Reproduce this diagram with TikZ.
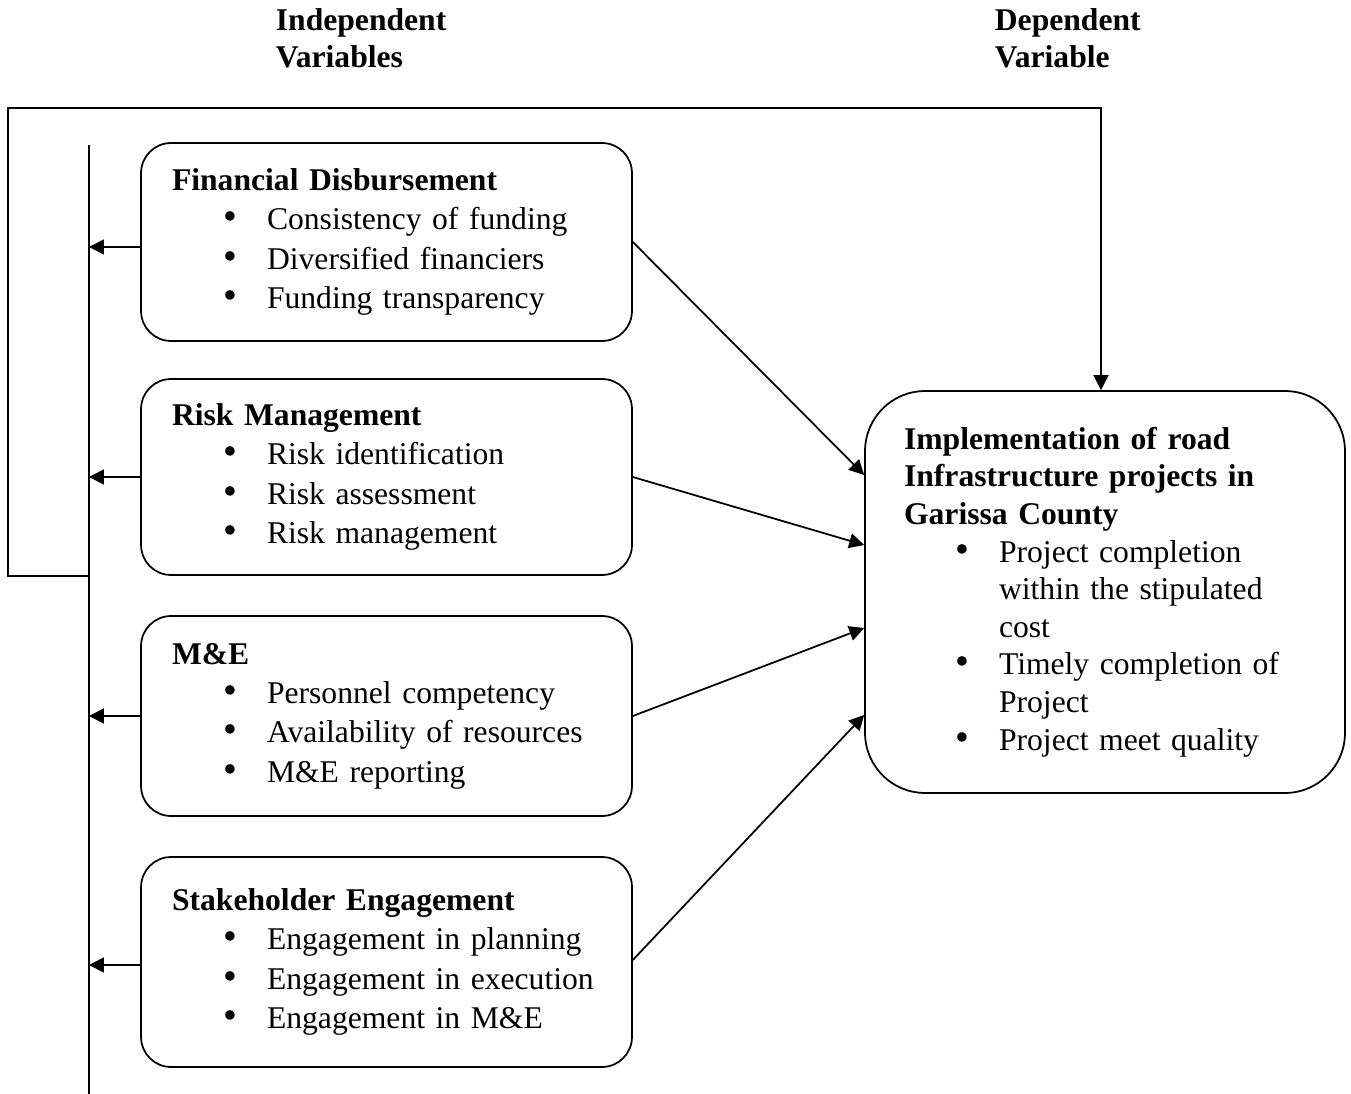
\documentclass[tikz,border=0pt]{standalone}
\usepackage{fontspec}
\setmainfont{Liberation Serif}
\usetikzlibrary{arrows.meta}
\newcommand{\itm}[1]{\makebox[1.9cm][l]{\hspace{1.02cm}\scalebox{1.25}{\textbullet}}#1}
\begin{document}
\begin{tikzpicture}[x=0.02cm,y=-0.02cm,
  line width=1pt,
  arr/.style={-{Triangle[length=8.5pt,width=8.5pt]}},
  ivbox/.style={draw,rounded corners=0.6cm,text width=8.58cm,inner xsep=0.62cm,
     minimum width=9.82cm,align=left,font=\fontsize{18}{22.4}\selectfont},
  dvbox/.style={draw,rounded corners=1.2cm,text width=8.04cm,inner xsep=0.78cm,
     minimum width=9.6cm,minimum height=8.04cm,align=left,font=\fontsize{18}{21.4}\selectfont},
  hdr/.style={anchor=north west,inner sep=0pt,align=left,font=\fontsize{18}{21.1}\selectfont\bfseries}]
\useasboundingbox (0,0) rectangle (1351,1094);
\node[hdr] (h1) at (275,8) {Independent\\Variables};
\node[hdr] (h2) at (994,8) {Dependent\\Variable};

\node[ivbox,minimum height=3.96cm] (b1) at (386.5,242) {\textbf{Financial Disbursement}\\
\itm{Consistency of funding}\\ \itm{Diversified financiers}\\ \itm{Funding transparency}};
\node[ivbox,minimum height=3.92cm] (b2) at (386.5,477) {\textbf{Risk Management}\\
\itm{Risk identification}\\ \itm{Risk assessment}\\ \itm{Risk management}};
\node[ivbox,minimum height=4.0cm] (b3) at (386.5,716) {\textbf{M\&E}\\
\itm{Personnel competency}\\ \itm{Availability of resources}\\ \itm{M\&E reporting}};
\node[ivbox,minimum height=4.2cm] (b4) at (386.5,962) {\textbf{Stakeholder Engagement}\\
\itm{Engagement in planning}\\ \itm{Engagement in execution}\\ \itm{Engagement in M\&E}\\[0.1cm]};

\node[dvbox] (dep) at (1105,592) {\textbf{Implementation of road}\\
\textbf{Infrastructure projects in}\\ \textbf{Garissa County}\\
\itm{Project completion}\\ \hspace*{1.9cm}within the stipulated\\ \hspace*{1.9cm}cost\\
\itm{Timely completion of}\\ \hspace*{1.9cm}Project\\
\itm{Project meet quality}};

\coordinate (bt) at (89,145);
\coordinate (bb) at (89,1094);
\coordinate (bj) at (89,576);
\coordinate (tl) at (8,108);
\coordinate (bl) at (8,576);
\coordinate (tr) at (1101,108);
\draw (bt) -- (bb);
\draw[arr] (bj) -- (bl) -- (tl) -- (tr) -- ([xshift=-0.08cm]dep.north);

\draw[arr] ([yshift=-0.1cm]b1.west) -- ([yshift=-0.1cm]b1.west -| bt);
\draw[arr] (b2.west) -- (b2.west -| bt);
\draw[arr] (b3.west) -- (b3.west -| bt);
\draw[arr] ([yshift=-0.06cm]b4.west) -- ([yshift=-0.06cm]b4.west -| bt);

\draw[arr] (b1.east) -- ([yshift=2.34cm]dep.west);
\draw[arr] (b2.east) -- ([yshift=0.94cm]dep.west);
\draw[arr] (b3.east) -- ([yshift=-0.72cm]dep.west);
\draw[arr] ([yshift=0.04cm]b4.east) -- ([yshift=-2.46cm]dep.west);
\end{tikzpicture}
\end{document}
